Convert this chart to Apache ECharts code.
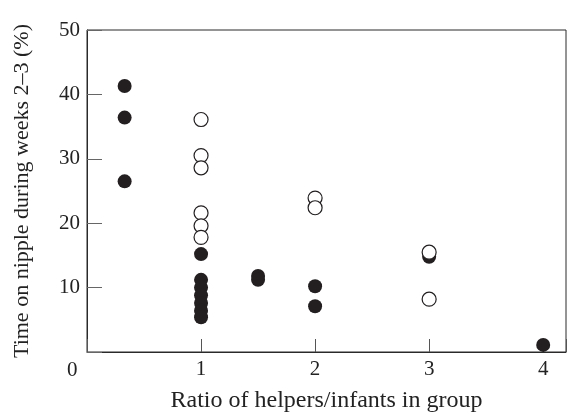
<!DOCTYPE html>
<html>
<head>
<meta charset="utf-8">
<script src="https://cdn.jsdelivr.net/npm/echarts@6/dist/echarts.min.js"></script>
<style>html,body{margin:0;padding:0;background:#fff}#c{width:571px;height:416px}</style>
</head>
<body>
<div id="c"></div>
<script>
const filledX = [0.33, 0.33, 0.33, 1, 1, 1, 1, 1, 1, 1, 1.5, 1.5, 2, 2, 3, 4];
const filledY = [41.3, 36.4, 26.5, 15.2, 11.2, 10.0, 8.8, 7.6, 6.4, 5.4, 11.8, 11.2, 10.2, 7.1, 14.8, 1.1];
const openX = [1, 1, 1, 1, 1, 1, 2, 2, 3, 3];
const openY = [36.1, 30.5, 28.6, 21.6, 19.6, 17.8, 23.9, 22.4, 15.5, 8.2];
const xTicks = [1, 2, 3, 4];
const yTicks = [10, 20, 30, 40, 50];
const xName = 'Ratio of helpers/infants in group';
const yName = 'Time on nipple during weeks 2\u20133 (%)';
const originLabel = '0';

const font = '"Liberation Serif", "DejaVu Serif", serif';
const chart = echarts.init(document.getElementById('c'));
chart.setOption({
  animation: false,
  grid: { left: 87, right: 5, top: 30, bottom: 64, show: true, borderColor: '#2a2a2a', borderWidth: 1,
          containLabel: false, outerBoundsMode: 'none' },
  xAxis: {
    type: 'value', min: 0, max: 4.2, interval: 1,
    name: xName, nameLocation: 'middle', nameGap: 37,
    nameTextStyle: { fontFamily: font, fontSize: 24, color: '#222' },
    axisLine: { show: true, onZero: false, lineStyle: { color: '#2a2a2a', width: 1 } },
    axisTick: { show: true, inside: true, length: 13, lineStyle: { color: '#555' } },
    axisLabel: { margin: 7, fontFamily: font, fontSize: 21, color: '#222',
      formatter: v => xTicks.indexOf(v) >= 0 ? String(v) : '' },
    splitLine: { show: false }
  },
  yAxis: {
    type: 'value', min: 0, max: 50, interval: 10,
    name: yName, nameLocation: 'middle', nameGap: 54,
    nameTextStyle: { fontFamily: font, fontSize: 22, color: '#222' },
    axisLine: { show: true, lineStyle: { color: '#2a2a2a', width: 1 } },
    axisTick: { show: true, inside: true, length: 15, lineStyle: { color: '#666' } },
    axisLabel: { margin: 7, fontFamily: font, fontSize: 21, color: '#222',
      formatter: v => yTicks.indexOf(v) >= 0 ? String(v) : '' },
    splitLine: { show: false }
  },
  graphic: [{ type: 'text', left: 67, top: 360, style: { text: originLabel, font: '21px ' + font, fill: '#222' } }],
  series: [
    { type: 'scatter', symbol: 'circle', symbolSize: 14, z: 2,
      itemStyle: { color: '#231f20', opacity: 1 },
      data: filledX.map((x, i) => [x, filledY[i]]) },
    { type: 'scatter', symbol: 'circle', symbolSize: 14, z: 3,
      itemStyle: { color: '#fff', borderColor: '#231f20', borderWidth: 1.2, opacity: 1 },
      data: openX.map((x, i) => [x, openY[i]]) }
  ]
});
</script>
</body>
</html>
